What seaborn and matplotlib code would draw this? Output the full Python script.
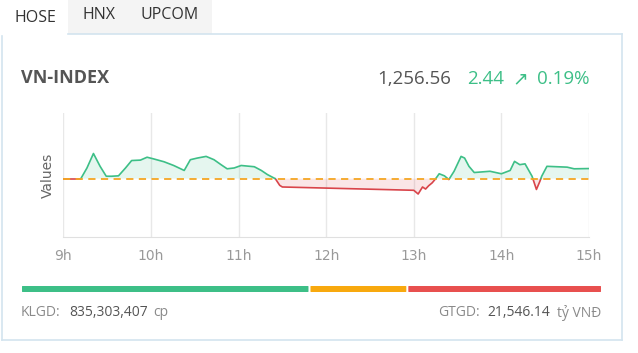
import numpy as np
import pandas as pd
import matplotlib
matplotlib.use("Agg")
import matplotlib.pyplot as plt
from matplotlib.patches import Rectangle, FancyBboxPatch
import seaborn as sns

# VN-INDEX intraday (hours, index points)
times = [9.0, 9.20, 9.27, 9.344, 9.42, 9.49, 9.55, 9.63, 9.71, 9.78, 9.88, 9.956,
         10.03, 10.15, 10.26, 10.38, 10.45, 10.53, 10.63, 10.72, 10.80, 10.87, 10.95,
         11.03, 11.18, 11.26, 11.33, 11.42, 11.47, 11.5,
         13.0, 13.05, 13.1, 13.135, 13.17, 13.21, 13.25, 13.29, 13.35, 13.40, 13.46,
         13.54, 13.58, 13.63, 13.69, 13.87, 14.0, 14.1, 14.15, 14.21, 14.27, 14.35,
         14.40, 14.44, 14.46, 14.52, 14.75, 14.83, 15.0]
values = [1254.12, 1254.12, 1256.7, 1260.2, 1257.1, 1254.7, 1254.7, 1254.8, 1256.7, 1258.5,
          1258.6, 1259.3, 1258.9, 1258.2, 1257.3, 1256.1, 1258.7, 1259.1, 1259.5, 1258.7,
          1257.5, 1256.5, 1256.7, 1257.3, 1257.0, 1256.1, 1255.1, 1254.1, 1252.5, 1252.1,
          1251.3, 1250.4, 1252.1, 1251.6, 1252.4, 1253.1, 1254.1, 1255.3, 1254.8, 1253.9,
          1255.9, 1259.5, 1259.1, 1257.1, 1255.6, 1255.9, 1255.3, 1256.1, 1258.3, 1257.5,
          1257.7, 1254.7, 1251.5, 1253.5, 1254.7, 1257.1, 1256.9, 1256.5, 1256.56]
reference = 1254.12
hour_ticks = [9, 10, 11, 12, 13, 14, 15]
hour_labels = ["9h", "10h", "11h", "12h", "13h", "14h", "15h"]

index_name = "VN-INDEX"
last_value = "1,256.56"
change_abs = "2.44"
change_arrow = "\u2197"
change_pct = "0.19%"
tabs = ["HOSE", "HNX", "UPCOM"]
breadth = [286, 97, 193]  # up / unchanged / down (share of bar)
klgd = "835,303,407"
gtgd = "21,546.14"

GREEN = "#3dbf87"
RED = "#d9444a"
ORANGE = "#f5a623"
W, H = 638, 353

fig = plt.figure(figsize=(W / 100, H / 100), dpi=100)
fig.patch.set_facecolor("white")

# decoration layer in pixel coordinates
bg = fig.add_axes([0, 0, 1, 1])
bg.set_xlim(0, W)
bg.set_ylim(H, 0)
bg.axis("off")
border = "#d3e4ef"
bg.add_patch(Rectangle((68, 0), 144, 34, facecolor="#f4f4f4", edgecolor="none"))
bg.plot([68, 622], [34, 34], color=border, lw=1.2)
bg.plot([2, 2], [36, 340], color=border, lw=1.2)
bg.plot([622, 622], [34, 340], color=border, lw=1.2)
bg.plot([2, 622], [340, 340], color=border, lw=1.2)

hdr = ["Open Sans", "DejaVu Sans"]
for name, x, y in zip(tabs, [14, 82, 141], [17.5, 15, 15]):
    bg.text(x, y, name, family=hdr, fontsize=11.5, color="#333333", va="center")
bg.text(21, 78, index_name, family=hdr, fontsize=13, fontweight="bold",
        color="#555555", va="center")
bg.text(451, 79, last_value, family=hdr, fontsize=13.5, color="#555555",
        va="center", ha="right")
bg.text(467, 79, change_abs, family=hdr, fontsize=13.5, color=GREEN, va="center")
bg.text(520, 79, change_arrow, family=hdr, fontsize=13.5, color=GREEN, va="center",
        ha="center")
bg.text(537, 79, change_pct, family=hdr, fontsize=13.5, color=GREEN, va="center")

# bottom info
fs = 10
bg.text(21, 313, "KLGD:", family=hdr, fontsize=fs, color="#8a8a8a", va="center")
bg.text(69, 313, klgd, family=hdr, fontsize=fs, color="#555555", va="center")
bg.text(153, 313, "cp", family=hdr, fontsize=fs, color="#8a8a8a", va="center")
bg.text(438, 313, "GTGD:", family=hdr, fontsize=fs, color="#8a8a8a", va="center")
bg.text(487, 313, gtgd, family=hdr, fontsize=fs, color="#555555", va="center")
bg.text(601, 313, "tỷ VNĐ", family=hdr, fontsize=fs, color="#8a8a8a", va="center",
        ha="right")

# market breadth bar
bar_ax = fig.add_axes([21 / W, 1 - 292 / H, (602 - 21) / W, 6 / H])
bar_ax.axis("off")
bar_ax.set_xlim(0, sum(breadth))
bar_ax.set_ylim(0, 1)
left = np.concatenate([[0], np.cumsum(breadth)[:-1]])
for lft, w, c in zip(left, breadth, [GREEN, "#f8a90e", "#e8504f"]):
    bar_ax.add_patch(FancyBboxPatch((lft + 1, 0.0), w - 2, 1.0,
                                    boxstyle="round,pad=0,rounding_size=0.5",
                                    mutation_aspect=1 / (sum(breadth) / (602 - 21) * 6),
                                    facecolor=c, edgecolor="none"))

# main chart
ax = fig.add_axes([63.3 / W, 1 - 237 / H, (589 - 63.3) / W, (237 - 113) / H])
sns.set_style("white")
plt.rcParams["font.family"] = ["Liberation Sans", "DejaVu Sans"]

t = np.array(times)
v = np.array(values)
# insert crossing points so colours switch at the reference line
tt, vv = [t[0]], [v[0]]
for i in range(1, len(t)):
    a, b = v[i - 1] - reference, v[i] - reference
    if a * b < 0:
        tc = t[i - 1] + (t[i] - t[i - 1]) * a / (a - b)
        tt.append(tc)
        vv.append(reference)
    tt.append(t[i])
    vv.append(v[i])
tt, vv = np.array(tt), np.array(vv)

rows = []
seg = 0
prev = None
for i in range(len(tt) - 1):
    mid = (vv[i] + vv[i + 1]) / 2
    sign = "up" if mid > reference else "down"
    if sign != prev:
        seg += 1
        prev = sign
    rows.append((tt[i], vv[i], sign, seg))
    rows.append((tt[i + 1], vv[i + 1], sign, seg))
df = pd.DataFrame(rows, columns=["t", "v", "sign", "seg"])

ax.fill_between(tt, vv, reference, where=vv >= reference, interpolate=True,
                color=GREEN, alpha=0.13, lw=0)
ax.fill_between(tt, vv, reference, where=vv <= reference, interpolate=True,
                color=RED, alpha=0.13, lw=0)
sns.lineplot(data=df, x="t", y="v", hue="sign", units="seg", estimator=None,
             palette={"up": GREEN, "down": RED}, lw=1.2, ax=ax, legend=False,
             sort=False)
ax.axhline(reference, color=ORANGE, ls=(0, (4, 3)), lw=1.3, zorder=3)

ax.set_xlim(9, 15)
ax.set_ylim(1240, 1270)
ax.set_xticks(hour_ticks)
ax.set_xticklabels(hour_labels, fontsize=10, color="#999999")
ax.set_yticks([])
ax.grid(axis="x", color="#e8e8e8", lw=1)
ax.set_axisbelow(True)
for s in ["top", "right", "left"]:
    ax.spines[s].set_visible(False)
ax.spines["bottom"].set_color("#e0e0e0")
ax.tick_params(axis="x", length=0, pad=9)
ax.set_xlabel("")
ax.set_ylabel("Values", fontsize=10, color="#666666", labelpad=6)
ax.patch.set_alpha(0)

fig.savefig("out.png", dpi=100)
